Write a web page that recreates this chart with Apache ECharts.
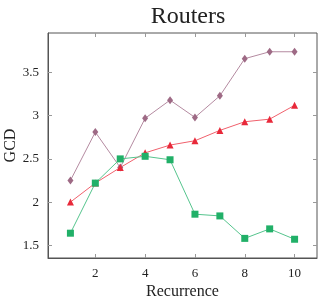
<!DOCTYPE html>
<html><head><meta charset="utf-8">
<script src="https://cdn.jsdelivr.net/npm/echarts@6/dist/echarts.min.js"></script>
<style>html,body{margin:0;padding:0;background:#fff}#c{width:318px;height:300px}</style>
</head><body><div id="c"></div>
<script>
const recurrence = [1,2,3,4,5,6,7,8,9,10];
const purpleSeries = [2.25,2.81,2.40,2.97,3.18,2.98,3.23,3.66,3.74,3.74];
const redSeries = [2.00,2.22,2.40,2.57,2.66,2.71,2.83,2.93,2.96,3.12];
const greenSeries = [1.64,2.22,2.50,2.53,2.49,1.86,1.84,1.58,1.69,1.57];
const xTicks = [2,4,6,8,10];
const yTicks = [1.5,2,2.5,3,3.5];

const font = 'Liberation Serif, DejaVu Serif, serif';
const chart = echarts.init(document.getElementById('c'), null, {renderer:'canvas'});
const pair = a => recurrence.map((x,i)=>[x,a[i]]);
const tickStyle = {show:true, inside:true, length:4, lineStyle:{color:'#999', width:1}};
const fmtY = v => { for (const t of yTicks) if (Math.abs(v-t)<1e-6) return String(t); return ''; };
const fmtX = v => { for (const t of xTicks) if (Math.abs(v-t)<1e-6) return String(t); return ''; };
chart.setOption({
  animation:false,
  title:{text:'Routers', left:183, top:0, textAlign:'center',
    textStyle:{fontFamily:font, fontSize:24, fontWeight:'normal', color:'#222'}},
  grid:{left:48, top:33, right:1, bottom:42, show:true, borderColor:'#555', borderWidth:1,
    containLabel:false, outerBoundsMode:'none'},
  xAxis:[{type:'value', min:0.1, max:10.9, interval:2, name:'Recurrence', nameLocation:'middle', nameGap:26,
    nameMoveOverlap:false,
    nameTextStyle:{fontFamily:font, fontSize:16, color:'#222'},
    axisLine:{show:true, lineStyle:{color:'#555'}}, splitLine:{show:false},
    axisLabel:{fontFamily:font, fontSize:13, color:'#222', margin:9, customValues:xTicks, formatter:fmtX},
    axisTick:Object.assign({customValues:xTicks}, tickStyle)},
    {type:'value', position:'top', min:0.1, max:10.9, axisLine:{show:false}, axisLabel:{show:false},
     splitLine:{show:false}, axisTick:Object.assign({customValues:xTicks}, tickStyle)}],
  yAxis:[{type:'value', min:1.353, max:3.957, name:'GCD', nameLocation:'middle', nameGap:29, nameRotate:90,
    nameMoveOverlap:false,
    nameTextStyle:{fontFamily:font, fontSize:16, color:'#222'},
    axisLine:{show:true, lineStyle:{color:'#555'}}, splitLine:{show:false},
    axisLabel:{fontFamily:font, fontSize:13, color:'#222', margin:9, customValues:yTicks, formatter:fmtY},
    axisTick:Object.assign({customValues:yTicks}, tickStyle)},
    {type:'value', position:'right', min:1.353, max:3.957, axisLine:{show:false}, axisLabel:{show:false},
     splitLine:{show:false}, axisTick:Object.assign({customValues:yTicks}, tickStyle)}],
  series:[
    {type:'line', data:pair(purpleSeries), symbol:'diamond', symbolSize:[6,8],
     lineStyle:{color:'#b48aa0', width:1}, itemStyle:{color:'#9e6a85'}},
    {type:'line', data:pair(redSeries), symbol:'triangle', symbolSize:7,
     lineStyle:{color:'#f0606c', width:1}, itemStyle:{color:'#e8293a'}},
    {type:'line', data:pair(greenSeries), symbol:'rect', symbolSize:7,
     lineStyle:{color:'#55c48d', width:1}, itemStyle:{color:'#21b068'}}
  ]
});
</script></body></html>
